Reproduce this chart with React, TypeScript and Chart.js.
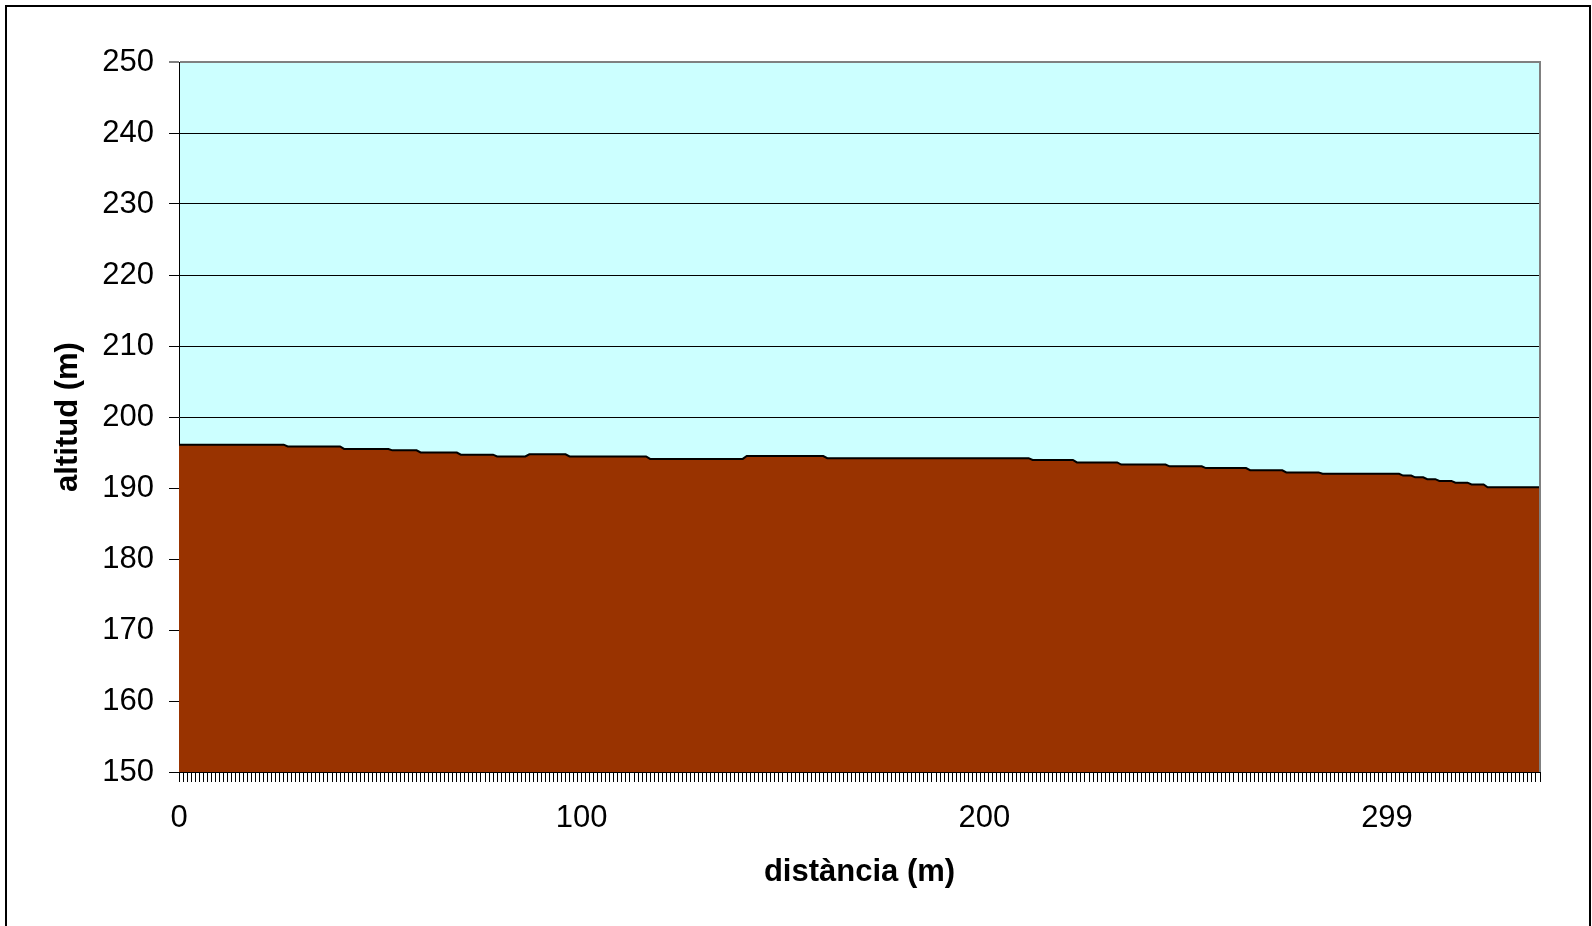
import React, { useEffect, useRef } from 'react';
import { Chart, registerables } from 'chart.js';

Chart.register(...registerables);

// Profile vertices: category index along the profile and altitude (m)
const distanceIndex = [
  0, 26, 27, 40, 41, 52, 53, 59, 60, 69, 70, 78, 79, 86, 87, 96, 97, 116, 117, 140,
  141, 160, 161, 211, 212, 222, 223, 233, 234, 245, 246, 254, 255, 265, 266, 274, 275,
  283, 284, 303, 304, 306, 307, 309, 310, 312, 313, 316, 317, 320, 321, 324, 325, 338,
];
const altitude = [
  196.1, 196.1, 195.85, 195.85, 195.5, 195.5, 195.3, 195.3, 195.0, 195.0, 194.7, 194.7,
  194.45, 194.45, 194.75, 194.75, 194.45, 194.45, 194.1, 194.1, 194.5, 194.5, 194.2, 194.2,
  193.95, 193.95, 193.6, 193.6, 193.3, 193.3, 193.05, 193.05, 192.8, 192.8, 192.5, 192.5,
  192.2, 192.2, 192.0, 192.0, 191.75, 191.75, 191.5, 191.5, 191.25, 191.25, 191.0, 191.0,
  190.75, 190.75, 190.5, 190.5, 190.1, 190.1,
];

// Category axis: first and last category index, and the labelled categories
const categoryFirst = 0;
const categoryLast = 338;
const xTickPositions = [0, 100, 200, 300];
const xTickLabels = ['0', '100', '200', '299'];

const yMin = 150;
const yMax = 250;
const yStep = 10;

const xTitle = 'distància (m)';
const yTitle = 'altitud (m)';

const FONT = "'Liberation Sans', Arial, sans-serif";

const framePlugin = {
  id: 'framePlugin',
  beforeDraw(chart: any) {
    const { ctx, chartArea: a, width, height } = chart;
    ctx.save();
    ctx.fillStyle = '#ffffff';
    ctx.fillRect(0, 0, width, height);
    ctx.fillStyle = '#CCFFFF';
    ctx.fillRect(a.left, a.top, a.right - a.left, a.bottom - a.top);
    ctx.restore();
  },
  afterDraw(chart: any) {
    const { ctx, chartArea: a } = chart;
    ctx.save();
    ctx.strokeStyle = '#808080';
    ctx.lineWidth = 2;
    ctx.beginPath();
    ctx.moveTo(a.right, a.top - 1);
    ctx.lineTo(a.right, a.bottom);
    ctx.stroke();
    ctx.strokeStyle = '#000000';
    ctx.lineWidth = 2;
    ctx.strokeRect(6, 6, 1584, 1000);
    ctx.restore();
  },
};

export default function App() {
  const canvasRef = useRef<HTMLCanvasElement | null>(null);

  useEffect(() => {
    const canvas = canvasRef.current;
    if (!canvas) return;
    const points = distanceIndex.map((x, i) => ({ x, y: altitude[i] }));
    const chart = new Chart(canvas, {
      type: 'line',
      data: {
        datasets: [
          {
            data: points,
            borderColor: '#000000',
            borderWidth: 2,
            backgroundColor: '#993300',
            fill: 'start',
            pointRadius: 0,
            tension: 0,
          },
        ],
      },
      options: {
        animation: false,
        responsive: false,
        devicePixelRatio: 1,
        layout: { padding: { left: 0, top: 62, right: 52, bottom: 0 } },
        plugins: {
          legend: { display: false },
          tooltip: { enabled: false },
        },
        scales: {
          x: {
            type: 'linear',
            min: categoryFirst,
            max: categoryLast,
            afterFit: (scale: any) => {
              scale.height = 154;
            },
            ticks: {
              stepSize: 1,
              autoSkip: false,
              maxRotation: 0,
              minRotation: 0,
              padding: 18,
              color: '#000000',
              font: { family: FONT, size: 31 },
              callback: (value: any) => {
                const k = xTickPositions.indexOf(Number(value));
                return k >= 0 ? xTickLabels[k] : '';
              },
            },
            grid: {
              drawOnChartArea: false,
              drawTicks: true,
              tickLength: 10,
              tickColor: '#000000',
              tickWidth: 1,
            },
            border: { display: true, color: '#000000', width: 1 },
            title: {
              display: true,
              text: xTitle,
              color: '#000000',
              font: { family: FONT, size: 31, weight: 'bold' },
              padding: { top: 0, bottom: 35 },
            },
          },
          y: {
            type: 'linear',
            min: yMin,
            max: yMax,
            afterFit: (scale: any) => {
              scale.width = 179;
            },
            ticks: {
              stepSize: yStep,
              padding: 15,
              color: '#000000',
              font: { family: FONT, size: 31 },
            },
            grid: {
              color: (ctx: any) => (ctx.tick && ctx.tick.value === yMax ? '#808080' : '#000000'),
              lineWidth: (ctx: any) => (ctx.tick && ctx.tick.value === yMax ? 2 : 1),
              drawTicks: true,
              tickLength: 10,
              tickColor: '#000000',
              tickWidth: 1,
            },
            border: { display: true, color: '#000000', width: 1 },
            title: {
              display: true,
              text: yTitle,
              color: '#000000',
              font: { family: FONT, size: 31, weight: 'bold' },
              padding: { top: 50, bottom: 0 },
            },
          },
        },
      },
      plugins: [framePlugin],
    } as any);
    return () => {
      chart.destroy();
    };
  }, []);

  return (
    <div
      style={{
        position: 'fixed',
        left: 0,
        top: 0,
        width: 1592,
        height: 926,
        background: '#ffffff',
        overflow: 'hidden',
      }}
    >
      <canvas ref={canvasRef} width={1592} height={926} style={{ width: 1592, height: 926, display: 'block' }} />
    </div>
  );
}
